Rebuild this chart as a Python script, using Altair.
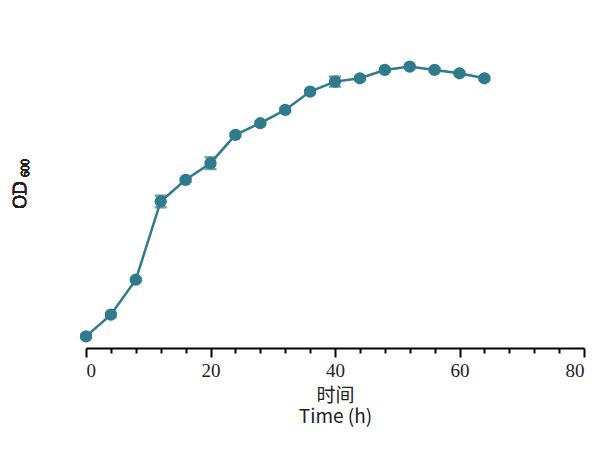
import altair as alt
import pandas as pd

time_h = [0, 4, 8, 12, 16, 20, 24, 28, 32, 36, 40, 44, 48, 52, 56, 60, 64]
od600 = [0.07, 0.20, 0.41, 0.88, 1.01, 1.11, 1.28, 1.35, 1.43, 1.54, 1.60, 1.62, 1.67, 1.69, 1.67, 1.65, 1.62]
od_err = [0.01, 0.01, 0.01, 0.035, 0.01, 0.035, 0.01, 0.01, 0.01, 0.01, 0.03, 0.01, 0.01, 0.01, 0.01, 0.01, 0.01]

df = pd.DataFrame({'t': time_h, 'od': od600, 'err': od_err})
df['lo'] = df['od'] - df['err']
df['hi'] = df['od'] + df['err']

color = '#2f7b8b'
font = 'Liberation Serif'

x = alt.X('t:Q', scale=alt.Scale(domain=[0, 80], nice=False),
          axis=alt.Axis(values=list(range(0, 81, 4)),
                        labelExpr="datum.value % 20 == 0 ? datum.label : ''",
                        tickSize=alt.expr("datum.value % 20 == 0 ? 9 : 5"),
                        title=['时间', 'Time (h)'], titleFont='Noto Sans CJK SC',
                        titleFontWeight='normal', titlePadding=6, labelPadding=4))
y = alt.Y('od:Q', scale=alt.Scale(domain=[0, 2], nice=False),
          axis=alt.Axis(values=[0, 0.5, 1.0, 1.5, 2.0], format='.1f', title=None,
                        tickSize=8, labelPadding=4))
y_lo = alt.Y('lo:Q', scale=alt.Scale(domain=[0, 2], nice=False), axis=None)
y_hi = alt.Y('hi:Q', scale=alt.Scale(domain=[0, 2], nice=False), axis=None)

base = alt.Chart(df)
line = base.mark_line(color=color, strokeWidth=2.5).encode(x=x, y=y)
pts = base.mark_circle(color=color, size=150, opacity=1).encode(x=x, y=y)
bars = base.mark_rule(color=color, strokeWidth=2).encode(x=x, y=y_lo, y2='hi:Q')
cap_lo = base.mark_tick(color=color, thickness=2.5, size=12, orient='horizontal').encode(x=x, y=y_lo)
cap_hi = base.mark_tick(color=color, thickness=2.5, size=12, orient='horizontal').encode(x=x, y=y_hi)

od_txt = base.mark_text(text='OD', font=font, fontSize=19, angle=270, baseline='middle',
                        color='#222').encode(x=alt.value(-66), y=alt.value(180))
sub_txt = base.mark_text(text='600', font=font, fontSize=12, angle=270, baseline='middle',
                         color='#222').encode(x=alt.value(-61), y=alt.value(153))

chart = alt.layer(line, bars, cap_lo, cap_hi, pts, od_txt, sub_txt).properties(
    width=498, height=333,
    autosize=alt.AutoSizeParams(type='none'),
    padding={'left': 78, 'top': 7, 'right': 10, 'bottom': 100}
).configure_view(strokeWidth=0).configure_axis(
    grid=False, domainColor='black', domainWidth=2, tickColor='black', tickWidth=2,
    labelFont=font, labelFontSize=19, labelColor='#222', titleFont=font,
    titleFontSize=19, titleColor='#222'
)

chart.save("out.html", embed_options={"renderer": "svg", "actions": False})
